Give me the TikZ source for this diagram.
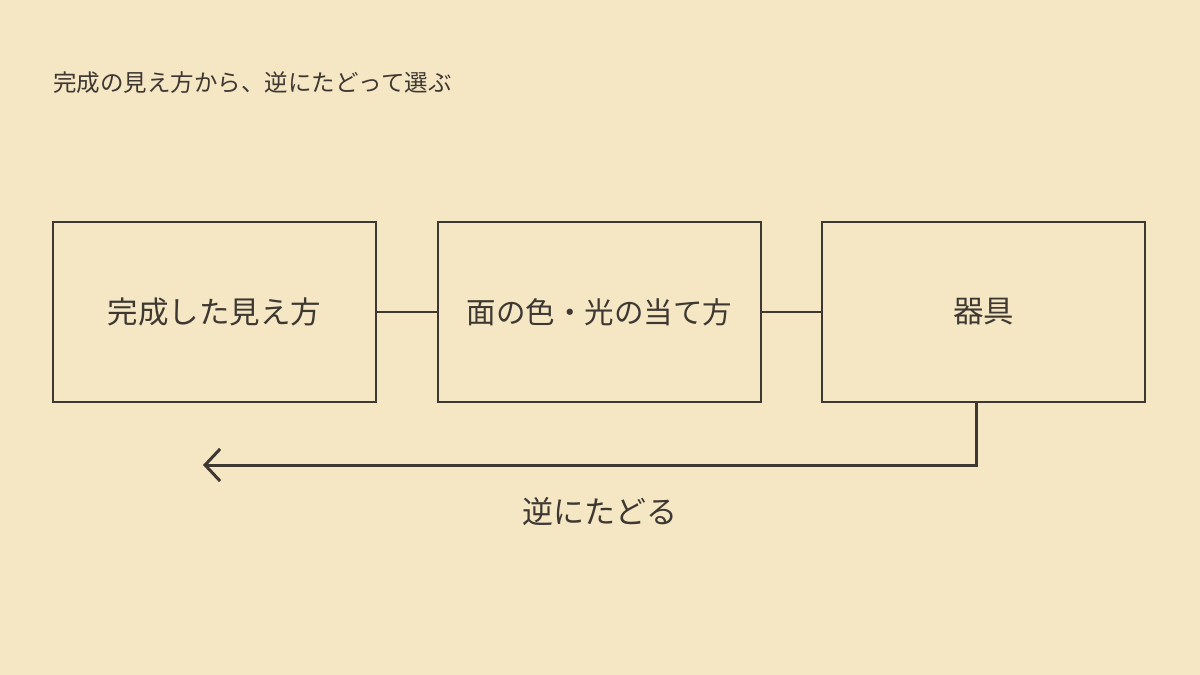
\documentclass[tikz,border=0pt]{standalone}
\usepackage{fontspec}
\setmainfont{Noto Sans CJK JP}
\usetikzlibrary{arrows.meta}
\definecolor{bg}{HTML}{F5E6C4}
\definecolor{ink}{HTML}{3D3832}
\tikzset{
  stagebox/.style={draw=ink, line width=2pt, minimum width=323pt, minimum height=180pt, inner sep=0pt, font=\fontsize{30.5}{36}\selectfont, text=ink},
  link/.style={draw=ink, line width=2pt},
  backarrow/.style={draw=ink, line width=3pt, -{Straight Barb[length=15pt, width=32pt, line width=3pt]}},
}
\begin{document}
\begin{tikzpicture}[x=1pt,y=-1pt]
\fill[bg] (0,0) rectangle (1200,675);
\useasboundingbox (0,0) rectangle (1200,675);
\node[anchor=west, text=ink, font=\fontsize{23.5}{28}\selectfont, inner sep=0pt] (title) at (53,83) {完成の見え方から、逆にたどって選ぶ};
\node[stagebox] (b1) at (214.5,312) {完成した見え方};
\node[stagebox, font=\fontsize{29.5}{35}\selectfont] (b2) at (599.5,312) {面の色・光の当て方};
\node[stagebox] (b3) at (983.5,312) {器具};
\draw[link] (b1.east) -- (b2.west);
\draw[link] (b2.east) -- (b3.west);
\coordinate (tip) at (203,465);
\draw[backarrow] (b3.south -| 976,0) -- (976,465) -- (tip);
\node[text=ink, font=\fontsize{31}{36}\selectfont, inner sep=0pt] (lbl) at (600,512) {逆にたどる};
\end{tikzpicture}
\end{document}
